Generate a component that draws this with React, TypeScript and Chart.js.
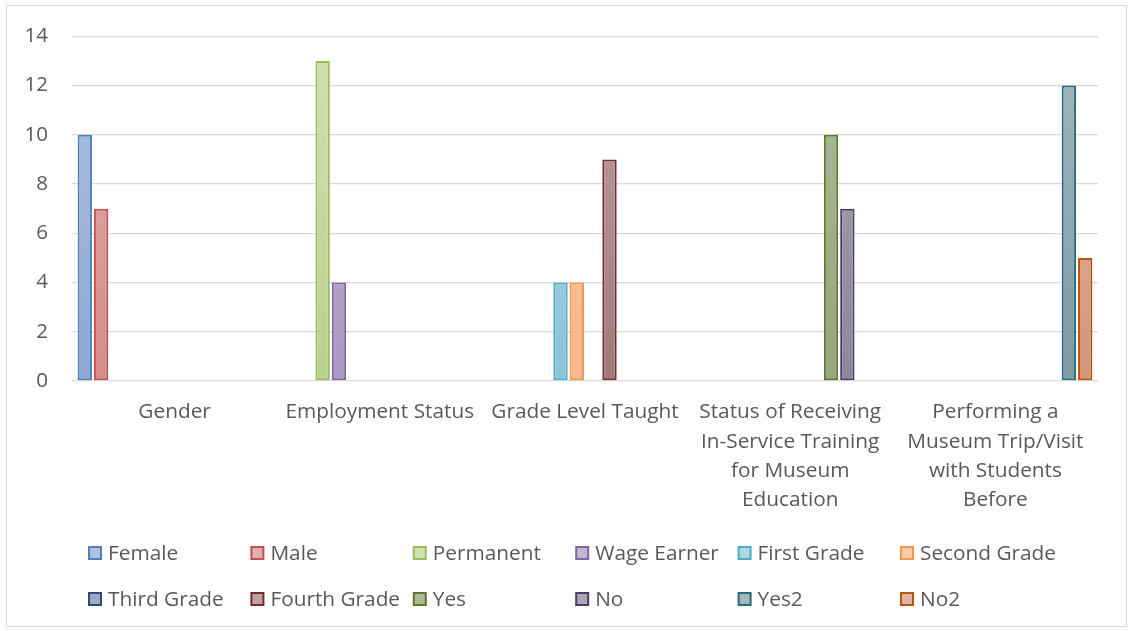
import React, { useEffect, useRef } from "react";
import { Chart, registerables } from "chart.js";

Chart.register(...registerables);

const categories: string[][] = [
  ["Gender"],
  ["Employment Status"],
  ["Grade Level Taught"],
  ["Status of Receiving", "In-Service Training", "for Museum", "Education"],
  ["Performing a", "Museum Trip/Visit", "with Students", "Before"],
];

const seriesNames = [
  "Female", "Male", "Permanent", "Wage Earner", "First Grade", "Second Grade",
  "Third Grade", "Fourth Grade", "Yes", "No", "Yes2", "No2",
];

const female = [10, null, null, null, null];
const male = [7, null, null, null, null];
const permanent = [null, 13, null, null, null];
const wageEarner = [null, 4, null, null, null];
const firstGrade = [null, null, 4, null, null];
const secondGrade = [null, null, 4, null, null];
const thirdGrade = [null, null, 0, null, null];
const fourthGrade = [null, null, 9, null, null];
const yes = [null, null, null, 10, null];
const no = [null, null, null, 7, null];
const yes2 = [null, null, null, null, 12];
const no2 = [null, null, null, null, 5];

const seriesValues = [female, male, permanent, wageEarner, firstGrade, secondGrade, thirdGrade, fourthGrade, yes, no, yes2, no2];

const borderColors = [
  "#4F81BD", "#C0504D", "#9BBB59", "#8064A2", "#4BACC6", "#F79646",
  "#2C4D75", "#772C2A", "#5F7530", "#4D3B62", "#276A7C", "#B65708",
];
const topColors = [
  "#AEC2DF", "#E2AFAE", "#D0E1B1", "#C2B6D3", "#ACD7E3", "#FBCBA7",
  "#9DAAC0", "#BCA3A3", "#AEB99A", "#AAA4B4", "#A4B7BF", "#E2B3A4",
];
const bottomColors = [
  "#8DA8D4", "#D58C8A", "#B9D18F", "#A898C2", "#8CC5D6", "#F7B88C",
  "#7C8CA8", "#A07A79", "#96A67C", "#8E8699", "#7D9AA6", "#D4967D",
];

const TEXT = "#595959";
const FONT = "'Open Sans'";

export default function App() {
  const ref = useRef<HTMLCanvasElement | null>(null);
  useEffect(() => {
    if (!ref.current) return;
    const framePlugin = {
      id: "frame",
      beforeDraw(chart: any) {
        const c = chart.ctx;
        c.save();
        c.fillStyle = "#FFFFFF";
        c.fillRect(0, 0, chart.width, chart.height);
        c.strokeStyle = "#D9D9D9";
        c.lineWidth = 1;
        c.strokeRect(6.5, 5.5, 1120, 621);
        c.restore();
      },
      afterDraw(chart: any) {
        const c = chart.ctx;
        c.save();
        c.font = `20.8px ${FONT}`;
        c.textBaseline = "middle";
        c.textAlign = "left";
        seriesNames.forEach((name, i) => {
          const col = i % 6;
          const row = Math.floor(i / 6);
          const x = 89 + col * 162.4;
          const y = 553 + row * 46;
          c.fillStyle = topColors[i];
          c.fillRect(x, y - 6, 12, 12);
          c.strokeStyle = borderColors[i];
          c.lineWidth = 2;
          c.strokeRect(x, y - 6, 12, 12);
          c.fillStyle = TEXT;
          c.fillText(name, x + 19, y + 1.5);
        });
        c.restore();
      },
    };
    const chart = new Chart(ref.current, {
      type: "bar",
      data: {
        labels: categories,
        datasets: seriesNames.map((name, i) => ({
          label: name,
          data: seriesValues[i],
          backgroundColor: (ctx: any) => {
            const area = ctx.chart.chartArea;
            if (!area) return topColors[i];
            const g = ctx.chart.ctx.createLinearGradient(0, area.top, 0, area.bottom);
            g.addColorStop(0, topColors[i]);
            g.addColorStop(1, bottomColors[i]);
            return g;
          },
          borderColor: borderColors[i],
          borderWidth: 2,
          borderSkipped: false,
          categoryPercentage: 0.955,
          barPercentage: 0.88,
        })),
      },
      options: {
        responsive: false,
        animation: false,
        devicePixelRatio: 1,
        layout: { padding: { left: 0, top: 34, right: 35, bottom: 100 } },
        plugins: {
          legend: { display: false },
          tooltip: { enabled: false },
        },
        scales: {
          x: {
            grid: { display: false, drawTicks: false },
            border: { display: false },
            ticks: {
              color: TEXT,
              font: { family: FONT, size: 20.8, lineHeight: 1.4 },
              padding: 17,
              maxRotation: 0,
              autoSkip: false,
            },
            afterFit: (s: any) => { s.height = 150; },
          },
          y: {
            min: 0,
            max: 14,
            ticks: {
              stepSize: 2,
              color: TEXT,
              font: { family: FONT, size: 20.5 },
              padding: 24,
            },
            grid: { color: "#D9D9D9", lineWidth: 1.3, drawTicks: false },
            border: { display: false },
            afterFit: (s: any) => { s.width = 72; },
          },
        },
      },
      plugins: [framePlugin],
    } as any);
    return () => chart.destroy();
  }, []);
  return (
    <div style={{ position: "fixed", left: 0, top: 0, width: 1133, height: 631 }}>
      <canvas ref={ref} width={1133} height={631} />
    </div>
  );
}
